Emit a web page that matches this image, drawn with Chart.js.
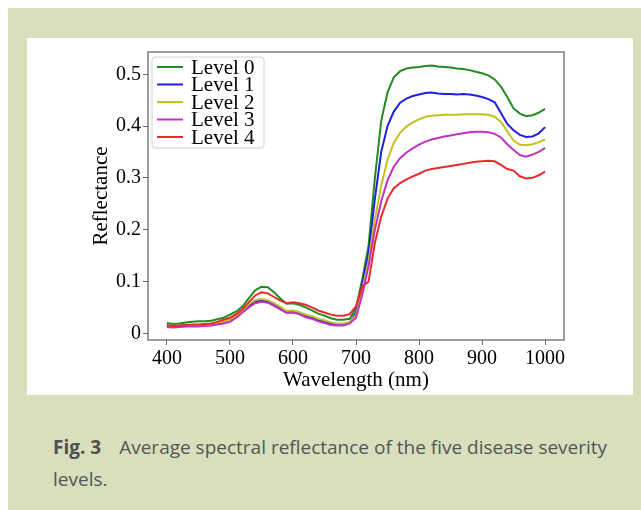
<!DOCTYPE html>
<html>
<head>
<meta charset="utf-8">
<script src="https://cdn.jsdelivr.net/npm/chart.js@4.4.1/dist/chart.umd.min.js"></script>
<style>
  body { margin: 0; background: #fff; width: 641px; height: 510px; overflow: hidden; position: relative; }
  #panel { position: absolute; left: 8px; top: 8px; width: 633px; height: 502px; background: #d8dfbc; }
  #box { position: absolute; left: 27px; top: 38px; width: 606px; height: 357px; background: #fff; }
  #caption { position: absolute; left: 53px; top: 431px; width: 590px; font-family: "Open Sans", sans-serif;
    font-size: 19px; line-height: 32px; color: #555; white-space: nowrap; }
  #caption b { color: #505050; margin-right: 18px; }
</style>
</head>
<body>
<div id="panel"></div>
<div id="box"><canvas id="chart" width="606" height="357"></canvas></div>
<div id="caption"><b>Fig. 3</b>Average spectral reflectance of the five disease severity<br>levels.</div>
<script>
const wavelengths = [400, 410, 420, 430, 440, 450, 460, 470, 480, 490, 500, 510, 520, 530, 540, 550, 560, 570, 580, 590,
  600, 610, 620, 630, 640, 650, 660, 670, 680, 690, 700, 710, 720, 730, 740, 750, 760, 770, 780, 790,
  800, 810, 820, 830, 840, 850, 860, 870, 880, 890, 900, 910, 920, 930, 940, 950, 960, 970, 980, 990, 1000]

const level0 = [.020, .018, .019, .021, .022, .023, .023, .024, .027, .030, .036, .042, .052, .068, .083, .090, .089, .079, .067, .057,
  .058, .055, .050, .044, .038, .034, .029, .026, .026, .028, .048, .105, .170, .300, .410, .465, .494, .506, .511, .513,
  .514, .516, .517, .515, .514, .513, .511, .510, .508, .505, .502, .498, .490, .476, .456, .434, .424, .419, .421, .426, .433]
const level1 = [.014, .013, .014, .015, .015, .015, .016, .017, .019, .021, .026, .033, .042, .054, .061, .063, .061, .055, .048, .041,
  .041, .038, .033, .030, .026, .022, .019, .017, .017, .020, .040, .095, .155, .260, .350, .400, .428, .445, .453, .458,
  .461, .464, .465, .463, .462, .462, .461, .462, .461, .459, .456, .452, .446, .425, .404, .392, .383, .379, .380, .386, .398]
const level2 = [.015, .014, .015, .016, .016, .016, .017, .018, .020, .022, .026, .034, .044, .056, .064, .066, .064, .058, .051, .043,
  .044, .041, .036, .033, .028, .025, .021, .019, .019, .022, .035, .085, .140, .220, .285, .335, .368, .387, .399, .407,
  .413, .418, .420, .421, .422, .422, .422, .423, .423, .423, .423, .422, .418, .408, .390, .372, .364, .363, .365, .369, .374]
const level3 = [.012, .011, .012, .013, .013, .013, .014, .015, .017, .019, .022, .030, .040, .050, .058, .061, .059, .053, .046, .039,
  .040, .037, .031, .028, .023, .020, .016, .015, .015, .019, .030, .075, .130, .200, .255, .295, .322, .338, .349, .357,
  .364, .370, .374, .377, .380, .382, .384, .386, .388, .389, .389, .388, .385, .378, .365, .354, .344, .341, .345, .350, .358]
const level4 = [.016, .014, .015, .016, .017, .017, .018, .019, .022, .026, .030, .037, .047, .060, .073, .079, .077, .070, .063, .058,
  .060, .058, .055, .050, .044, .040, .036, .034, .034, .037, .052, .090, .100, .175, .225, .260, .280, .290, .297, .303,
  .308, .314, .317, .319, .321, .323, .325, .327, .329, .331, .332, .333, .332, .325, .317, .314, .303, .299, .300, .305, .312]

const seriesNames = ['Level 0', 'Level 1', 'Level 2', 'Level 3', 'Level 4']
const seriesColors = ['#228b22', '#2020e0', '#c2c21e', '#c232c2', '#e82a2a']
const xTicks = [400, 500, 600, 700, 800, 900, 1000]
const yTicks = [0, 0.1, 0.2, 0.3, 0.4, 0.5]

const serif = 'Liberation Serif'
const frameColor = '#6a6a6a'

const allSeries = [level0, level1, level2, level3, level4]
const datasets = allSeries.map((vals, i) => ({
  label: seriesNames[i],
  data: vals.map((v, j) => ({ x: wavelengths[j], y: v })),
  borderColor: seriesColors[i],
  backgroundColor: seriesColors[i],
  borderWidth: 2,
  pointRadius: 0,
  tension: 0,
  order: allSeries.length - 1 - i
}))

// frame round the plot area
const framePlugin = {
  id: 'frame',
  afterDatasetsDraw (chart) {
    const { ctx, chartArea: a } = chart
    ctx.save()
    ctx.strokeStyle = frameColor
    ctx.lineWidth = 1.3
    ctx.strokeRect(a.left, a.top, a.right - a.left, a.bottom - a.top)
    ctx.restore()
  }
}

// legend box in the upper left corner of the plot
const boxLegend = {
  id: 'boxLegend',
  afterDraw (chart) {
    const { ctx, chartArea: a } = chart
    const x = a.left + 4
    const y = a.top + 5
    const w = 112
    const h = 91
    ctx.save()
    ctx.fillStyle = 'rgba(255,255,255,0.85)'
    ctx.strokeStyle = '#d2d2d2'
    ctx.lineWidth = 1
    ctx.beginPath()
    ctx.roundRect(x, y, w, h, 3)
    ctx.fill()
    ctx.stroke()
    ctx.font = '21px "' + serif + '"'
    ctx.textBaseline = 'middle'
    ctx.fillStyle = '#000'
    chart.data.datasets.forEach((ds, i) => {
      const cy = a.top + 15 + i * 17.5
      ctx.strokeStyle = ds.borderColor
      ctx.lineWidth = 2
      ctx.beginPath()
      ctx.moveTo(a.left + 9, cy)
      ctx.lineTo(a.left + 35, cy)
      ctx.stroke()
      ctx.fillText(ds.label, a.left + 43, cy + 1)
    })
    ctx.restore()
  }
}

new Chart(document.getElementById('chart'), {
  type: 'line',
  data: { datasets },
  plugins: [framePlugin, boxLegend],
  options: {
    responsive: false,
    animation: false,
    devicePixelRatio: 1,
    layout: { padding: { left: 58, right: 69, top: 2, bottom: 0 } },
    plugins: {
      legend: { display: false },
      tooltip: { enabled: false }
    },
    scales: {
      x: {
        type: 'linear',
        min: 370,
        max: 1030,
        afterBuildTicks: (scale) => { scale.ticks = xTicks.map(v => ({ value: v })) },
        afterFit: (scale) => { scale.height = 55 },
        grid: { drawOnChartArea: false, drawTicks: true, tickLength: 5, color: frameColor },
        border: { display: false },
        ticks: {
          color: '#000',
          padding: 2,
          maxRotation: 0,
          font: { family: serif, size: 20 },
          callback: (v) => String(v)
        },
        title: {
          display: true,
          text: 'Wavelength (nm)',
          color: '#000',
          padding: { top: 0, bottom: 2 },
          font: { family: serif, size: 21 }
        }
      },
      y: {
        type: 'linear',
        min: -0.013,
        max: 0.543,
        afterBuildTicks: (scale) => { scale.ticks = yTicks.map(v => ({ value: v })) },
        afterFit: (scale) => { scale.width = 63 },
        grid: { drawOnChartArea: false, drawTicks: true, tickLength: 5, color: frameColor },
        border: { display: false },
        ticks: {
          color: '#000',
          padding: 2,
          font: { family: serif, size: 20 },
          callback: (v) => v === 0 ? '0' : String(Math.round(v * 10) / 10)
        },
        title: {
          display: true,
          text: 'Reflectance',
          color: '#000',
          padding: { top: 4, bottom: 0 },
          font: { family: serif, size: 21 }
        }
      }
    }
  }
})
</script>
</body>
</html>
